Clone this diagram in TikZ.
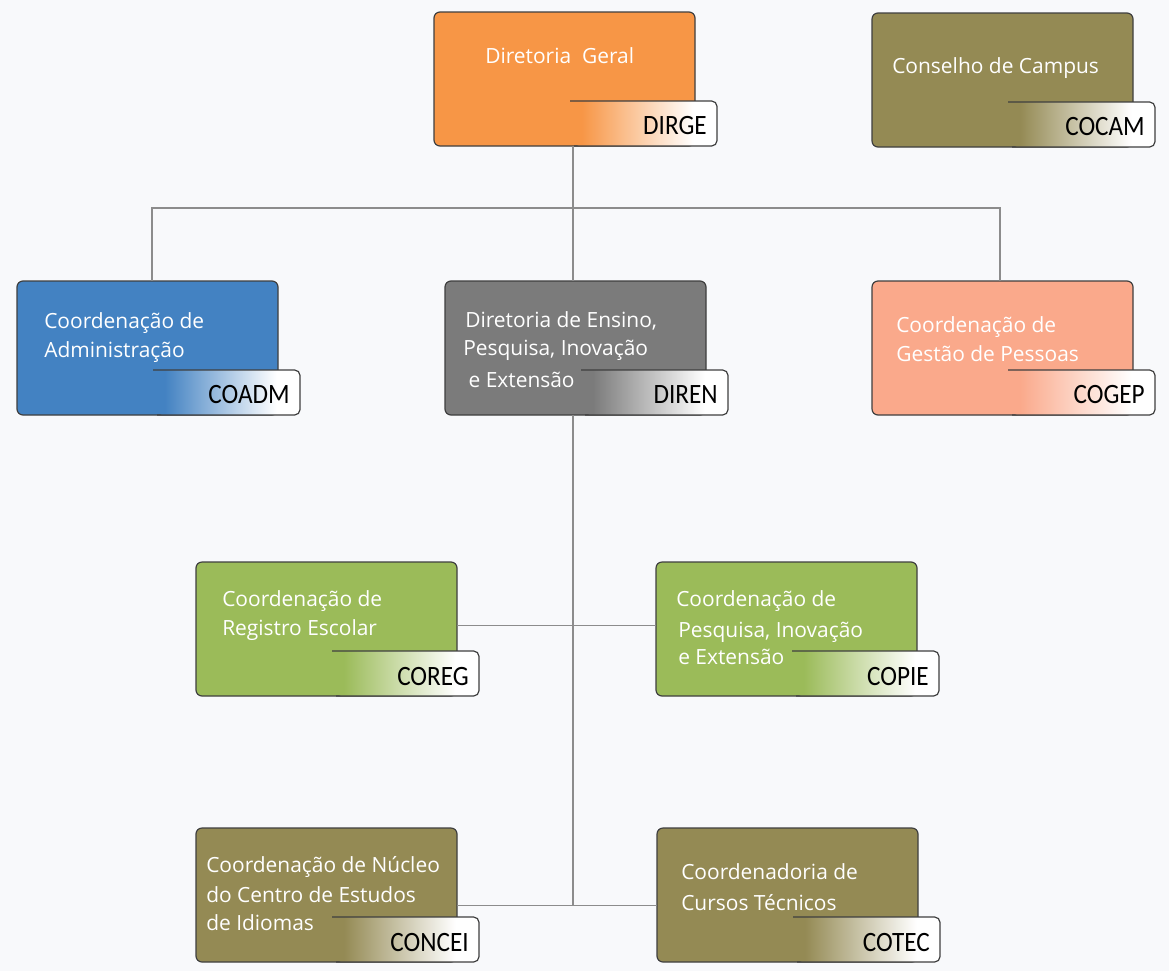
\documentclass[tikz,border=0pt]{standalone}
\usepackage{fontspec}
\setmainfont{Open Sans}
\newfontfamily\tabfont[FakeStretch=0.9]{Carlito}
\usetikzlibrary{calc}
\definecolor{bg}{HTML}{F8F9FB}
\definecolor{cOrange}{HTML}{F79646}
\definecolor{cBlue}{HTML}{4382C2}
\definecolor{cGray}{HTML}{7B7B7B}
\definecolor{cSalmon}{HTML}{FAA98B}
\definecolor{cGreen}{HTML}{9BBB59}
\definecolor{cOlive}{HTML}{948A54}
\definecolor{edge}{HTML}{3F3F3F}
\definecolor{wire}{HTML}{8C8C8C}
\colorlet{tabc}{white}
\pgfdeclarehorizontalshading[tabc]{tabshade}{100bp}{color(0bp)=(tabc); color(29bp)=(tabc); color(67bp)=(white); color(100bp)=(white)}
\tikzset{
 unitbox/.style={draw=edge, line width=0.9pt, rounded corners=4.5pt, minimum width=195.75pt, minimum height=100.5pt, inner sep=0pt, outer sep=0pt, anchor=north west},
 tabcol/.code={\colorlet{tabc}{#1}},
 tabedge/.style={draw=edge, line width=0.9pt, rounded corners=4pt},
 bodytext/.style={text=white, align=left, anchor=west, inner sep=0pt, font=\fontsize{15.7}{21.5}\selectfont},
 tablabel/.style={text=black, anchor=east, inner sep=0pt, font=\tabfont\fontsize{21}{21}\selectfont},
 wireline/.style={draw=wire, line width=1pt},
}
\newcommand{\orgunit}[5]{%
 \node[unitbox, fill=#4] (#1) at (#2,#3) {};
 \shade[shading=tabshade, tabcol=#4, rounded corners=4pt] ($(#1.north west)+(136,89)$) -- ($(#1.north west)+(283,89)$) -- ($(#1.north west)+(283,134)$) -- ($(#1.north west)+(140,134)$) -- cycle;
 \draw[tabedge] ($(#1.north west)+(136,89)$) -- ($(#1.north west)+(283,89)$) -- ($(#1.north west)+(283,134)$) -- ($(#1.north west)+(140,134)$);
 \node[tablabel] (#1-code) at ($(#1.north west)+(273,114)$) {#5};
}
\begin{document}
\begin{tikzpicture}[x=0.75pt,y=-0.75pt]
\fill[bg] (0,0) rectangle (1169,971);
\useasboundingbox (0,0) rectangle (1169,971);
\orgunit{dirge}{434}{12}{cOrange}{DIRGE}
\orgunit{cocam}{872}{13}{cOlive}{COCAM}
\orgunit{coadm}{17}{281}{cBlue}{COADM}
\orgunit{diren}{445}{281}{cGray}{DIREN}
\orgunit{cogep}{872}{281}{cSalmon}{COGEP}
\orgunit{coreg}{196}{562}{cGreen}{COREG}
\orgunit{copie}{656}{562}{cGreen}{COPIE}
\orgunit{concei}{196}{828}{cOlive}{CONCEI}
\orgunit{cotec}{657}{828}{cOlive}{COTEC}
% texts
\node[bodytext] (dirge-t) at ($(dirge.north west)+(51,44)$) {Diretoria\ \ Geral};
\node[bodytext] (cocam-t) at ($(cocam.north west)+(20,55)$) {Conselho de Campus};
\node[bodytext] (coadm-t) at ($(coadm.north west)+(27,56.5)$) {Coordenação de\\Administração};
\node[bodytext] (diren-t) at ($(diren.north west)+(20,69)$) {Diretoria de Ensino,\\[-1pt]\hspace*{-1.5pt}Pesquisa, Inovação\\[3pt]\hspace*{2.5pt}e Extensão};
\node[bodytext] (cogep-t) at ($(cogep.north west)+(24,58)$) {Coordenação de\\Gestão de Pessoas};
\node[bodytext] (coreg-t) at ($(coreg.north west)+(26,53.5)$) {Coordenação de\\Registro Escolar};
\node[bodytext] (copie-t) at ($(copie.north west)+(20,65.5)$) {Coordenação de\\[2pt]\hspace*{1.5pt}Pesquisa, Inovação\\[-1pt]\hspace*{1.5pt}e Extensão};
\node[bodytext] (concei-t) at ($(concei.north west)+(10,65.5)$) {Coordenação de Núcleo\\[1pt]do Centro de Estudos\\de Idiomas};
\node[bodytext] (cotec-t) at ($(cotec.north west)+(24,59)$) {Coordenadoria de\\[2pt]Cursos Técnicos};
% connectors
\draw[wireline] ($(diren.north)+(-2.5,0)$) -- ($(dirge.south)+(8.5,0)$);
\draw[wireline] ($(coadm.north)+(4.5,0)$) |- ($(cogep.north)+(-2.5,-73)$) -- ($(cogep.north)+(-2.5,0)$);
\draw[wireline] ($(diren.south)+(-2.5,0)$) -- ($(diren.south)+(-2.5,491)$);
\draw[wireline] ($(coreg.east)+(0,-3.5)$) -- ($(copie.west)+(0,-3.5)$);
\draw[wireline] ($(concei.east)+(0,10.5)$) -- ($(cotec.west)+(0,10.5)$);
\end{tikzpicture}
\end{document}
